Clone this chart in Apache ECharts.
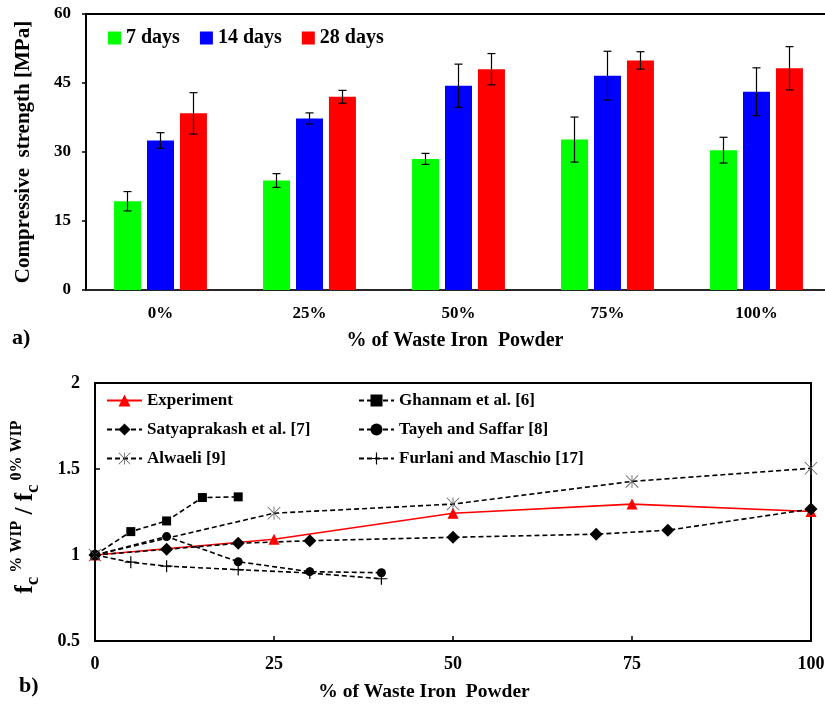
<!DOCTYPE html>
<html>
<head>
<meta charset="utf-8">
<script src="https://cdn.jsdelivr.net/npm/echarts@6/dist/echarts.min.js"></script>
<style>
html,body{margin:0;padding:0;background:#fff;overflow:hidden;}
#c{width:825px;height:706px;}
</style>
</head>
<body>
<div id="c"></div>
<script>
// ---- Data: panel a) compressive strength ----
const categories = ['0%', '25%', '50%', '75%', '100%'];
const strength7 = [19.3, 23.8, 28.5, 32.7, 30.4];
const strength14 = [32.5, 37.3, 44.4, 46.6, 43.1];
const strength28 = [38.4, 42.0, 48.0, 49.9, 48.2];
const err7 = [2.1, 1.5, 1.2, 4.9, 2.8];
const err14 = [1.7, 1.2, 4.7, 5.3, 5.2];
const err28 = [4.5, 1.4, 3.4, 1.9, 4.7];
const yTicksA = [0, 15, 30, 45, 60];

// ---- Data: panel b) strength ratio ----
const experiment = [[0, 1], [25, 1.092], [50, 1.243], [75, 1.296], [100, 1.253]];
const ghannam = [[0, 1], [5, 1.136], [10, 1.198], [15, 1.334], [20, 1.338]];
const satyaprakash = [[0, 1], [10, 1.033], [20, 1.068], [30, 1.083], [50, 1.103], [70, 1.121], [80, 1.144], [100, 1.267]];
const tayeh = [[0, 1], [10, 1.107], [20, 0.961], [30, 0.903], [40, 0.897]];
const alwaeli = [[0, 1], [25, 1.243], [50, 1.296], [75, 1.428], [100, 1.504]];
const furlani = [[0, 1], [5, 0.958], [10, 0.935], [20, 0.915], [30, 0.895], [40, 0.862]];
const xTicksB = [0, 25, 50, 75, 100];
const yTicksB = [0.5, 1, 1.5, 2];

const FF = "'Liberation Serif','Times New Roman',serif";
const chart = echarts.init(document.getElementById('c'), null, {renderer: 'canvas'});

const BAR_W = 27;
const OFFS = [-33, 0, 33];

function errSeries(values, errs, k) {
  return {
    type: 'custom', xAxisIndex: 0, yAxisIndex: 0, z: 10, silent: true,
    data: values.map((v, i) => [i, v, errs[i]]),
    renderItem: function (params, api) {
      const x = api.coord([api.value(0), 0])[0] + OFFS[k];
      const top = api.coord([api.value(0), api.value(1) + api.value(2)])[1];
      const bot = api.coord([api.value(0), api.value(1) - api.value(2)])[1];
      const st = {stroke: '#000', lineWidth: 1.2};
      return {type: 'group', children: [
        {type: 'line', shape: {x1: x, y1: top, x2: x, y2: bot}, style: st},
        {type: 'line', shape: {x1: x - 4, y1: top, x2: x + 4, y2: top}, style: st},
        {type: 'line', shape: {x1: x - 4, y1: bot, x2: x + 4, y2: bot}, style: st}
      ]};
    }
  };
}

const ASTER = 'path://M47,0 L53,0 L53,100 L47,100 Z M0,4 L4,0 L100,96 L96,100 Z M96,0 L100,4 L4,100 L0,96 Z';
const PLUS = 'path://M45,0 L55,0 L55,100 L45,100 Z M0,45 L100,45 L100,55 L0,55 Z';
const DASH = [5, 3];

function lineSeries(name, data, symbol, size, color, dashed, lineColor) {
  return {
    name: name, type: 'line', xAxisIndex: 1, yAxisIndex: 1,
    data: data, symbol: symbol, symbolSize: size, showSymbol: true,
    itemStyle: {color: color},
    lineStyle: {color: lineColor || color, width: 1.6, type: dashed ? DASH : 'solid'},
    emphasis: {disabled: true}, animation: false
  };
}

const labelStyle = {color: '#000', fontFamily: FF, fontWeight: 'bold'};

const option = {
  animation: false,
  grid: [
    {left: 86, top: 14, width: 745, height: 276, outerBoundsMode: 'none', containLabel: false,
      show: true, borderColor: '#000', borderWidth: 2},
    {left: 95, top: 383, width: 716, height: 258, show: true, borderColor: '#000', borderWidth: 2, outerBoundsMode: 'none', containLabel: false}
  ],
  xAxis: [
    {gridIndex: 0, type: 'category', data: categories,
      axisLine: {lineStyle: {color: '#333', width: 1.5}}, axisTick: {show: false},
      splitLine: {show: false},
      axisLabel: Object.assign({fontSize: 17, margin: 15}, labelStyle)},
    {gridIndex: 1, type: 'value', min: 0, max: 100, interval: 25,
      axisLine: {lineStyle: {color: '#000', width: 2}},
      axisTick: {inside: true, length: 5, lineStyle: {color: '#000', width: 1.5}},
      splitLine: {show: false},
      axisLabel: Object.assign({fontSize: 18, margin: 14}, labelStyle)}
  ],
  yAxis: [
    {gridIndex: 0, type: 'value', min: 0, max: 60, interval: 15,
      axisLine: {show: true, lineStyle: {color: '#000', width: 2}},
      axisTick: {show: true, length: 4, lineStyle: {color: '#000', width: 1.5}},
      splitLine: {show: false},
      axisLabel: Object.assign({fontSize: 17, margin: 15}, labelStyle)},
    {gridIndex: 1, type: 'value', min: 0.5, max: 2, interval: 0.5,
      axisLine: {show: true, lineStyle: {color: '#000', width: 2}},
      axisTick: {show: true, inside: true, length: 5, lineStyle: {color: '#000', width: 1.5}},
      splitLine: {show: false},
      axisLabel: Object.assign({fontSize: 18, margin: 15}, labelStyle)}
  ],
  legend: [
    {data: ['7 days', '14 days', '28 days'], left: 103, top: 23, itemWidth: 13, itemHeight: 13,
      icon: 'rect', itemGap: 20, selectedMode: false,
      textStyle: {color: '#000', fontFamily: FF, fontWeight: 'bold', fontSize: 20}},
    {data: ['Experiment', 'Satyaprakash et al. [7]', 'Alwaeli [9]'], orient: 'vertical', left: 101, top: 387,
      itemWidth: 35, itemHeight: 15, itemGap: 12, selectedMode: false,
      textStyle: {color: '#000', fontFamily: FF, fontWeight: 'bold', fontSize: 17}},
    {data: ['Ghannam et al. [6]', 'Tayeh and Saffar [8]', 'Furlani and Maschio [17]'], orient: 'vertical', left: 353, top: 387,
      itemWidth: 35, itemHeight: 15, itemGap: 12, selectedMode: false,
      textStyle: {color: '#000', fontFamily: FF, fontWeight: 'bold', fontSize: 17}}
  ],
  series: [
    {name: '7 days', type: 'bar', xAxisIndex: 0, yAxisIndex: 0, data: strength7, barWidth: BAR_W, barGap: '22%',
      itemStyle: {color: '#00ff00'}},
    {name: '14 days', type: 'bar', xAxisIndex: 0, yAxisIndex: 0, data: strength14, barWidth: BAR_W, barGap: '22%',
      itemStyle: {color: '#0000ff'}},
    {name: '28 days', type: 'bar', xAxisIndex: 0, yAxisIndex: 0, data: strength28, barWidth: BAR_W, barGap: '22%',
      itemStyle: {color: '#ff0000'}},
    errSeries(strength7, err7, 0),
    errSeries(strength14, err14, 1),
    errSeries(strength28, err28, 2),
    lineSeries('Experiment', experiment, 'triangle', 11, '#ff0000', false),
    lineSeries('Ghannam et al. [6]', ghannam, 'rect', 9, '#000', true),
    lineSeries('Satyaprakash et al. [7]', satyaprakash, 'diamond', 13, '#000', true),
    lineSeries('Tayeh and Saffar [8]', tayeh, 'circle', 9, '#000', true),
    lineSeries('Alwaeli [9]', alwaeli, ASTER, 13, '#555', true, '#000'),
    lineSeries('Furlani and Maschio [17]', furlani, PLUS, 12, '#000', true)
  ],
  graphic: [
    {type: 'text', x: 24, y: 152, rotation: Math.PI / 2,
      style: {text: 'Compressive  strength [MPa]', fill: '#000', font: 'bold 21px ' + FF, align: 'center', verticalAlign: 'middle'}},
    {type: 'text', x: 455, y: 341,
      style: {text: '% of Waste Iron  Powder', fill: '#000', font: 'bold 20px ' + FF, align: 'center', verticalAlign: 'middle'}},
    {type: 'text', x: 12, y: 338,
      style: {text: 'a)', fill: '#000', font: 'bold 22px ' + FF, align: 'left', verticalAlign: 'middle'}},
    {type: 'text', x: 424, y: 692,
      style: {text: '% of Waste Iron  Powder', fill: '#000', font: 'bold 19.5px ' + FF, align: 'center', verticalAlign: 'middle'}},
    {type: 'text', x: 19, y: 686,
      style: {text: 'b)', fill: '#000', font: 'bold 22px ' + FF, align: 'left', verticalAlign: 'middle'}},
    {type: 'text', x: 26, y: 507, rotation: Math.PI / 2,
      style: {
        text: '{f|f}{c|c}{s| % WIP}{f| / f}{c|c}{s| 0% WIP}',
        align: 'center', verticalAlign: 'middle', fill: '#000',
        rich: {
          f: {fontFamily: FF, fontWeight: 'bold', fontSize: 25, lineHeight: 34, verticalAlign: 'middle', fill: '#000'},
          c: {fontFamily: FF, fontWeight: 'bold', fontSize: 19, lineHeight: 34, verticalAlign: 'bottom', fill: '#000'},
          s: {fontFamily: FF, fontWeight: 'bold', fontSize: 16, lineHeight: 34, verticalAlign: 'top', fill: '#000'}
        }
      }},
    // white mask over the stray edge line at the canvas's right border (no data drawn there)
    {type: 'rect', z: 100, silent: true, shape: {x: 821, y: 16, width: 4, height: 272}, style: {fill: '#fff'}}
  ]
};
chart.setOption(option);
</script>
</body>
</html>
